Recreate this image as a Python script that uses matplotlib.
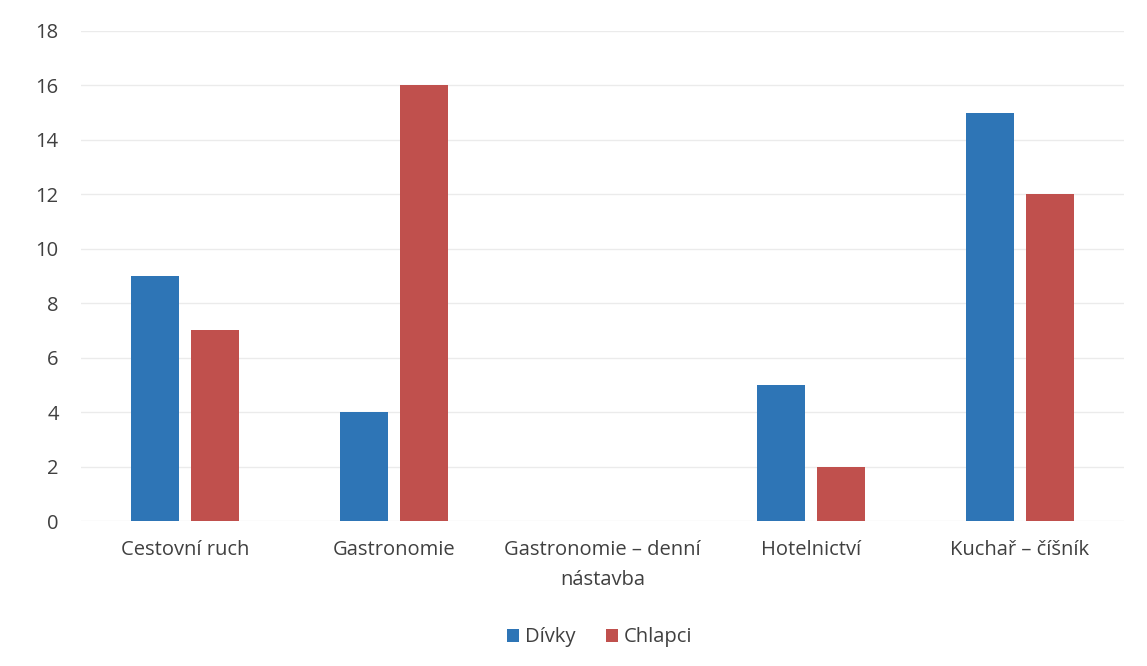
import numpy as np
import matplotlib.pyplot as plt

categories = ["Cestovní ruch", "Gastronomie", "Gastronomie – denní\nnástavba",
              "Hotelnictví", "Kuchař – číšník"]
divky = [9, 4, 0, 5, 15]
chlapci = [7, 16, 0, 2, 12]

plt.rcParams['font.family'] = ['Open Sans', 'DejaVu Sans']
text_color = '#404040'
fs = 14.5

fig = plt.figure(figsize=(11.47, 6.66), dpi=100)
ax = fig.add_axes([0.0706, 0.2177, 0.9094, 0.7358])

x = np.arange(len(categories))
width = 0.23
offset = 0.144
ax.bar(x - offset, divky, width, color='#2e75b6', label='Dívky', zorder=3)
ax.bar(x + offset, chlapci, width, color='#c0504d', label='Chlapci', zorder=3)

ax.set_xlim(-0.5, len(categories) - 0.5)
ax.set_ylim(0, 18)
ax.set_yticks(range(0, 19, 2))
ax.set_xticks(x)
ax.set_xticklabels(categories, fontsize=fs, color=text_color, linespacing=1.65)
ax.tick_params(axis='y', labelsize=fs, labelcolor=text_color, length=0, pad=16)
ax.tick_params(axis='x', length=0, pad=14)
ax.grid(axis='y', color='#ebebeb', linewidth=1, zorder=0)
for s in ax.spines.values():
    s.set_visible(False)

fig.legend(loc='center', bbox_to_anchor=(0.523, 0.043), ncol=2, frameon=False,
           fontsize=fs, labelcolor=text_color, handlelength=0.6, handleheight=0.6,
           handletextpad=0.3, columnspacing=1.5)

fig.savefig('out.png', dpi=100, facecolor='white')
